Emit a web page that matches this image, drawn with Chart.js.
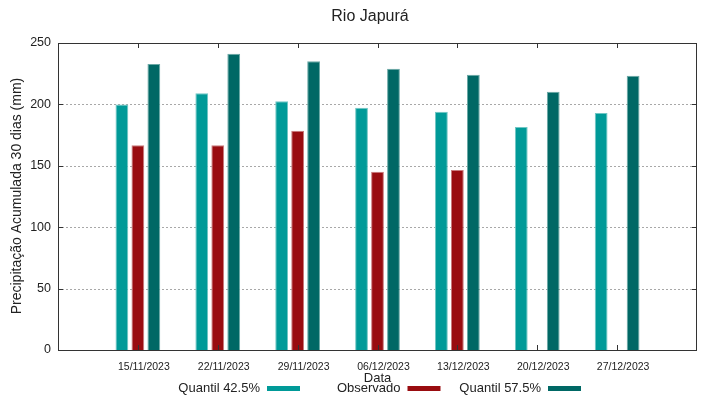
<!DOCTYPE html>
<html>
<head>
<meta charset="utf-8">
<title>Rio Japurá</title>
<script src="https://cdn.jsdelivr.net/npm/chart.js@4.4.1/dist/chart.umd.min.js"></script>
<style>
  html, body { margin: 0; padding: 0; background: #fff; }
  canvas { display: block; }
</style>
</head>
<body>
<canvas id="chart" width="719" height="399"></canvas>
<script>
// ── DATA ────────────────────────────────────────────────────────────
var categories = ["15/11/2023", "22/11/2023", "29/11/2023", "06/12/2023",
                  "13/12/2023", "20/12/2023", "27/12/2023"];
var quantil425 = [200, 209, 202.5, 197.3, 194.1, 181.6, 193];
var observado  = [166.7, 166.7, 178.6, 145.2, 146.6, null, null];
var quantil575 = [232.9, 241.3, 235.1, 229.1, 224.2, 210.4, 223.4];
var yTicks = [0, 50, 100, 150, 200, 250];

var TITLE = "Rio Japurá";
var Y_TITLE = "Precipitação Acumulada 30 dias (mm)";
var X_TITLE = "Data";

// ── STYLE ───────────────────────────────────────────────────────────
var FONT = "'Liberation Sans', Arial, sans-serif";
var INK = "#222222";
var FRAME = "#333333";

// gnuplot style x range (-1 .. 7): pad categories with one empty slot each side
var labels = [""].concat(categories, [""]);
function pad(arr) { return [null].concat(arr, [null]); }

// ── DECORATION PLUGIN (frame, dotted grid, inward ticks, titles, legend) ──
var gnuplotLook = {
    id: "gnuplotLook",
    beforeDatasetsDraw: function (chart) {
        var ctx = chart.ctx, a = chart.chartArea, y = chart.scales.y;
        ctx.save();
        ctx.strokeStyle = "#a8a8a8";
        ctx.lineWidth = 1;
        ctx.setLineDash([2, 2]);
        for (var i = 0; i < yTicks.length; i++) {
            var v = yTicks[i];
            if (v === y.min || v === y.max) continue;
            var py = Math.round(y.getPixelForValue(v)) + 0.5;
            ctx.beginPath();
            ctx.moveTo(a.left, py);
            ctx.lineTo(a.right, py);
            ctx.stroke();
        }
        ctx.restore();
    },
    afterDraw: function (chart) {
        var ctx = chart.ctx, a = chart.chartArea;
        var x = chart.scales.x, y = chart.scales.y;
        ctx.save();

        // frame
        ctx.strokeStyle = FRAME;
        ctx.lineWidth = 1;
        ctx.strokeRect(a.left + 0.5, a.top + 0.5, a.right - a.left - 1, a.bottom - a.top);

        // inward ticks
        ctx.beginPath();
        for (var i = 0; i < yTicks.length; i++) {
            var py = Math.round(y.getPixelForValue(yTicks[i])) + 0.5;
            ctx.moveTo(a.left, py); ctx.lineTo(a.left + 5, py);
            ctx.moveTo(a.right - 5, py); ctx.lineTo(a.right, py);
        }
        for (var j = 0; j < categories.length; j++) {
            var px = Math.round(x.getPixelForValue(j + 1)) + 0.5;
            ctx.moveTo(px, a.bottom); ctx.lineTo(px, a.bottom - 5);
            ctx.moveTo(px, a.top); ctx.lineTo(px, a.top + 5);
        }
        ctx.stroke();

        // title
        ctx.fillStyle = INK;
        ctx.textAlign = "center";
        ctx.textBaseline = "middle";
        ctx.font = "16px " + FONT;
        ctx.fillText(TITLE, 370, 17);

        // x title
        ctx.font = "13px " + FONT;
        ctx.fillText(X_TITLE, (a.left + a.right) / 2, 378);

        // y title
        ctx.save();
        ctx.translate(17, 196);
        ctx.rotate(-Math.PI / 2);
        ctx.font = "14px " + FONT;
        ctx.fillText(Y_TITLE, 0, 0);
        ctx.restore();

        // legend: text right-aligned, then sample
        ctx.font = "13px " + FONT;
        ctx.textAlign = "right";
        var ds = chart.data.datasets;
        for (var k = 0; k < ds.length; k++) {
            var tx = 260 + k * 140.5;
            ctx.fillStyle = INK;
            ctx.fillText(ds[k].label, tx, 388);
            ctx.fillStyle = ds[k].backgroundColor;
            ctx.fillRect(tx + 7, 386, 33, 5);
        }
        ctx.restore();
    }
};

// ── CHART ───────────────────────────────────────────────────────────
new Chart(document.getElementById("chart"), {
    type: "bar",
    data: {
        labels: labels,
        datasets: [
            { label: "Quantil 42.5%", data: pad(quantil425),
              backgroundColor: "#009a98", borderColor: "#70c6c4", borderWidth: 1 },
            { label: "Observado", data: pad(observado),
              backgroundColor: "#990c10", borderColor: "#c97a7c", borderWidth: 1 },
            { label: "Quantil 57.5%", data: pad(quantil575),
              backgroundColor: "#006865", borderColor: "#6aa8a5", borderWidth: 1 }
        ]
    },
    options: {
        responsive: false,
        animation: false,
        devicePixelRatio: 1,
        categoryPercentage: 0.6,
        barPercentage: 0.8,
        layout: { padding: { top: 43, right: 22, left: 0, bottom: 0 } },
        plugins: {
            legend: { display: false },
            title: { display: false },
            tooltip: { enabled: false }
        },
        scales: {
            x: {
                offset: false,
                grid: { display: false, drawTicks: false },
                border: { display: false },
                ticks: {
                    autoSkip: false, maxRotation: 0, minRotation: 0,
                    padding: 11, labelOffset: 6,
                    color: INK, font: { family: FONT, size: 10.5 }
                },
                afterFit: function (s) { s.height = 49; }
            },
            y: {
                min: 0, max: 250,
                grid: { display: false, drawTicks: false },
                border: { display: false },
                ticks: {
                    stepSize: 50, padding: 7,
                    color: INK, font: { family: FONT, size: 12.5 }
                },
                afterFit: function (s) { s.width = 58; }
            }
        }
    },
    plugins: [gnuplotLook]
});
</script>
</body>
</html>
